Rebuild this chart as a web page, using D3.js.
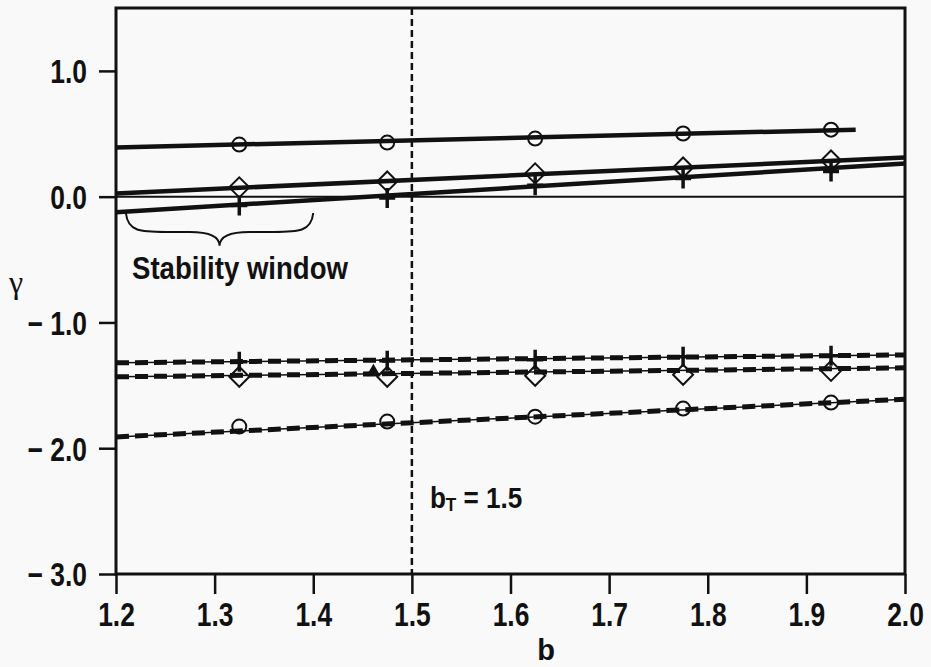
<!DOCTYPE html>
<html>
<head>
<meta charset="utf-8">
<script src="https://cdn.jsdelivr.net/npm/d3@7"></script>
<style>
  body { margin: 0; background: #f9f9f9; }
  svg { display: block; }
  .lbl { font-family: "Liberation Sans Narrow", "Liberation Sans", Arial, sans-serif; font-weight: bold; fill: #111; }
</style>
</head>
<body>
<div id="vis"></div>
<script>

const FRAME_WIDTH = 931;
const FRAME_HEIGHT = 667;
const MARGINS = {left: 116, right: 26, top: 8, bottom: 93};

// tick labels
const X_TICKS = [1.2, 1.3, 1.4, 1.5, 1.6, 1.7, 1.8, 1.9, 2.0];
const Y_TICKS = [-3, -2, -1, 0, 1];

// b values where the symbols sit
const MARKER_B = [1.325, 1.475, 1.625, 1.775, 1.925];

// upper (solid) group
const CIRCLE_UPPER = [0.414, 0.430, 0.462, 0.502, 0.533];
const DIAMOND_UPPER = [0.074, 0.121, 0.185, 0.232, 0.288];
const CROSS_UPPER = [-0.07, -0.01, 0.09, 0.145, 0.20];

// lower (dashed) group
const CROSS_LOWER = [-1.313, -1.305, -1.297, -1.273, -1.265];
const DIAMOND_LOWER = [-1.432, -1.432, -1.424, -1.416, -1.385];
const CIRCLE_LOWER = [-1.828, -1.788, -1.749, -1.685, -1.637];

const TRIANGLE_B = [1.461];
const TRIANGLE_G = [-1.395];

// fitted straight lines: [start, end]
const FIT_B = [1.2, 2.0];
const FIT_B_CIRCLE_UPPER = [1.2, 1.95];
const FIT_CIRCLE_UPPER = [0.391, 0.533];
const FIT_DIAMOND_UPPER = [0.026, 0.311];
const FIT_CROSS_UPPER = [-0.124, 0.264];
const FIT_CROSS_LOWER = [-1.321, -1.258];
const FIT_DIAMOND_LOWER = [-1.432, -1.361];
const FIT_CIRCLE_LOWER = [-1.91, -1.61];

const B_T = 1.5;

const VIS_WIDTH = FRAME_WIDTH - MARGINS.left - MARGINS.right;
const VIS_HEIGHT = FRAME_HEIGHT - MARGINS.top - MARGINS.bottom;

const svg = d3.select("#vis")
  .append("svg")
    .attr("width", FRAME_WIDTH)
    .attr("height", FRAME_HEIGHT);

const X_SCALE = d3.scaleLinear().domain([1.2, 2.0]).range([MARGINS.left, MARGINS.left + VIS_WIDTH]);
const Y_SCALE = d3.scaleLinear().domain([-3, 1.5]).range([MARGINS.top + VIS_HEIGHT, MARGINS.top]);

const fmt = (d) => (d < 0 ? "\u2212 " : "") + d3.format(".1f")(Math.abs(d));

// squeeze bold text to look like the condensed face of the original
function condense(sel, k) {
  sel.attr("lengthAdjust", "spacingAndGlyphs")
     .attr("textLength", function() { return this.getComputedTextLength() * k; });
}

// axes
const xAxis = svg.append("g")
  .attr("transform", "translate(0," + (MARGINS.top + VIS_HEIGHT) + ")")
  .call(d3.axisBottom(X_SCALE).tickValues(X_TICKS).tickSize(20).tickPadding(9).tickFormat(d3.format(".1f")));
xAxis.select(".domain").remove();
xAxis.selectAll("line").attr("stroke", "#111").attr("stroke-width", 2.5);
xAxis.selectAll("text").attr("class", "lbl").attr("font-size", 33).call(condense, 0.8);

const yAxis = svg.append("g")
  .attr("transform", "translate(" + MARGINS.left + ",0)")
  .call(d3.axisLeft(Y_SCALE).tickValues(Y_TICKS).tickSize(17).tickPadding(12).tickFormat(fmt));
yAxis.select(".domain").remove();
yAxis.selectAll("line").attr("stroke", "#111").attr("stroke-width", 2.5);
yAxis.selectAll("text").attr("class", "lbl").attr("font-size", 33).attr("dy", "0.36em").call(condense, 0.8);

// frame
svg.append("rect")
  .attr("x", MARGINS.left).attr("y", MARGINS.top)
  .attr("width", VIS_WIDTH).attr("height", VIS_HEIGHT)
  .attr("fill", "none").attr("stroke", "#111").attr("stroke-width", 3);

// zero line
svg.append("line")
  .attr("x1", X_SCALE(1.2)).attr("x2", X_SCALE(2.0))
  .attr("y1", Y_SCALE(0)).attr("y2", Y_SCALE(0))
  .attr("stroke", "#111").attr("stroke-width", 2);

// b_T dashed line
svg.append("line")
  .attr("x1", X_SCALE(B_T)).attr("x2", X_SCALE(B_T))
  .attr("y1", Y_SCALE(1.5)).attr("y2", Y_SCALE(-3))
  .attr("stroke", "#111").attr("stroke-width", 2.5)
  .attr("stroke-dasharray", "7,4");

const line = d3.line().x((d) => X_SCALE(d[0])).y((d) => Y_SCALE(d[1]));

// solid fits
[[FIT_B_CIRCLE_UPPER, FIT_CIRCLE_UPPER], [FIT_B, FIT_DIAMOND_UPPER], [FIT_B, FIT_CROSS_UPPER]].forEach((f) => {
  svg.append("path")
    .attr("d", line(d3.zip(f[0], f[1])))
    .attr("fill", "none").attr("stroke", "#111").attr("stroke-width", 4.5);
});

// dashed fits: thin line with heavy dashes on top
[FIT_CROSS_LOWER, FIT_DIAMOND_LOWER, FIT_CIRCLE_LOWER].forEach((g) => {
  svg.append("path")
    .attr("d", line(d3.zip(FIT_B, g)))
    .attr("fill", "none").attr("stroke", "#111").attr("stroke-width", 1.5);
  svg.append("path")
    .attr("d", line(d3.zip(FIT_B, g)))
    .attr("fill", "none").attr("stroke", "#111").attr("stroke-width", 5)
    .attr("stroke-dasharray", "13,6");
});

// markers
const circles = (vals) => {
  svg.append("g").selectAll("circle")
    .data(d3.zip(MARKER_B, vals))
    .enter()
    .append("circle")
      .attr("cx", (d) => X_SCALE(d[0]))
      .attr("cy", (d) => Y_SCALE(d[1]))
      .attr("r", 7)
      .attr("fill", "none").attr("stroke", "#111").attr("stroke-width", 2);
};
const diamonds = (vals) => {
  svg.append("g").selectAll("path")
    .data(d3.zip(MARKER_B, vals))
    .enter()
    .append("path")
      .attr("d", "M0,-10L10,0L0,10L-10,0Z")
      .attr("transform", (d) => "translate(" + X_SCALE(d[0]) + "," + Y_SCALE(d[1]) + ")")
      .attr("fill", "none").attr("stroke", "#111").attr("stroke-width", 2);
};
const crosses = (vals) => {
  svg.append("g").selectAll("path")
    .data(d3.zip(MARKER_B, vals))
    .enter()
    .append("path")
      .attr("d", "M0,-10V10M-8,0H8")
      .attr("transform", (d) => "translate(" + X_SCALE(d[0]) + "," + Y_SCALE(d[1]) + ")")
      .attr("fill", "none").attr("stroke", "#111").attr("stroke-width", 3.5);
};

circles(CIRCLE_UPPER);
diamonds(DIAMOND_UPPER);
crosses(CROSS_UPPER);
crosses(CROSS_LOWER);
diamonds(DIAMOND_LOWER);
circles(CIRCLE_LOWER);

svg.append("g").selectAll("path")
  .data(d3.zip(TRIANGLE_B, TRIANGLE_G))
  .enter()
  .append("path")
    .attr("d", d3.symbol(d3.symbolTriangle, 90)())
    .attr("transform", (d) => "translate(" + X_SCALE(d[0]) + "," + Y_SCALE(d[1]) + ")")
    .attr("fill", "#111");

// stability window brace
const bx0 = X_SCALE(1.21), bx1 = X_SCALE(1.40), bxm = X_SCALE(1.305);
const by0 = Y_SCALE(-0.13), by1 = Y_SCALE(-0.28), by2 = Y_SCALE(-0.39);
svg.append("path")
  .attr("d", "M" + bx0 + "," + by0 +
             " C" + (bx0 + 2) + "," + by1 + " " + (bx0 + 15) + "," + by1 + " " + (bx0 + 40) + "," + by1 +
             " L" + (bxm - 30) + "," + by1 +
             " C" + (bxm - 8) + "," + by1 + " " + bxm + "," + (by1 + 6) + " " + bxm + "," + by2 +
             " C" + bxm + "," + (by1 + 6) + " " + (bxm + 8) + "," + by1 + " " + (bxm + 30) + "," + by1 +
             " L" + (bx1 - 40) + "," + by1 +
             " C" + (bx1 - 15) + "," + by1 + " " + (bx1 - 2) + "," + by1 + " " + bx1 + "," + by0)
  .attr("fill", "none").attr("stroke", "#111").attr("stroke-width", 2);

svg.append("text")
  .attr("class", "lbl")
  .attr("x", 132).attr("y", 279)
  .attr("font-size", 31)
  .attr("textLength", 216)
  .attr("lengthAdjust", "spacingAndGlyphs")
  .text("Stability window");

// b_T label
const bt = svg.append("text")
  .attr("class", "lbl")
  .attr("x", X_SCALE(B_T) + 18).attr("y", 508)
  .attr("font-size", 29);
bt.append("tspan").text("b");
bt.append("tspan").attr("font-size", 19).attr("dy", 3).text("T");
bt.append("tspan").attr("dy", -3).text(" = 1.5");
condense(bt, 0.9);

// axis titles
svg.append("text")
  .attr("class", "lbl")
  .attr("x", 546).attr("y", 660)
  .attr("text-anchor", "middle")
  .attr("font-size", 29)
  .text("b");

svg.append("text")
  .attr("x", 9).attr("y", 293)
  .attr("font-family", "Liberation Serif, serif")
  .attr("font-size", 32)
  .attr("fill", "#111")
  .text("\u03b3");

</script>
</body>
</html>
